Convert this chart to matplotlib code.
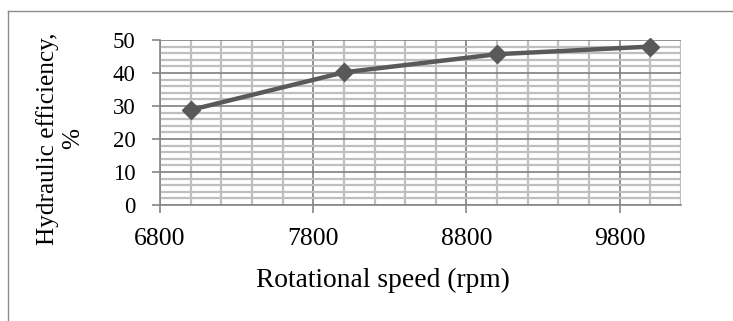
import matplotlib
matplotlib.use('Agg')
import matplotlib.pyplot as plt
from matplotlib.lines import Line2D
from matplotlib.ticker import MultipleLocator

# data
speed = [7000, 8000, 9000, 10000]
efficiency = [28.8, 40.2, 45.7, 48.0]
x_ticks = [6800, 7800, 8800, 9800]
y_ticks = [0, 10, 20, 30, 40, 50]

plt.rcParams['font.family'] = ['Liberation Serif', 'DejaVu Serif']

fig = plt.figure(figsize=(7.33, 3.21), dpi=100)
ax = fig.add_axes([160 / 733, 1 - 205 / 321, (681 - 160) / 733, (205 - 40) / 321])

ax.set_xlim(6800, 10200)
ax.set_ylim(0, 50)
ax.set_xticks(x_ticks)
ax.set_yticks(y_ticks)
ax.xaxis.set_minor_locator(MultipleLocator(200))
ax.yaxis.set_minor_locator(MultipleLocator(2))

ax.grid(which='minor', color='#bfbfbf', linewidth=1.6)
ax.grid(which='major', color='#7f7f7f', linewidth=1.2)
ax.set_axisbelow(True)

for side in ['top', 'right']:
    ax.spines[side].set_visible(False)
for side in ['left', 'bottom']:
    ax.spines[side].set_color('#868686')
    ax.spines[side].set_linewidth(1.2)

ax.tick_params(which='major', length=5.5, width=1.2, color='#868686')
ax.tick_params(which='minor', length=0)
ax.tick_params(axis='x', labelsize=18.5, pad=11)
ax.tick_params(axis='y', labelsize=16.5, pad=12)

ax.plot(speed, efficiency, color='#595959', linewidth=3.2, marker='D',
        markersize=9, clip_on=False, zorder=5)

fig.text(60 / 733, 1 - 139 / 321, 'Hydraulic efficiency,\n%', rotation=90,
         ha='center', va='center', multialignment='center', fontsize=18.2,
         linespacing=1.15)
fig.text(383 / 733, 1 - 280 / 321, 'Rotational speed (rpm)', ha='center',
         va='center', fontsize=19.8)

# chart border (cropped)
fig.add_artist(Line2D([8 / 733, 1], [1 - 11 / 321, 1 - 11 / 321],
                      transform=fig.transFigure, color='#8c8c8c', linewidth=1))
fig.add_artist(Line2D([8 / 733, 8 / 733], [0, 1 - 11 / 321],
                      transform=fig.transFigure, color='#8c8c8c', linewidth=1))

fig.savefig('out.png', dpi=100)
